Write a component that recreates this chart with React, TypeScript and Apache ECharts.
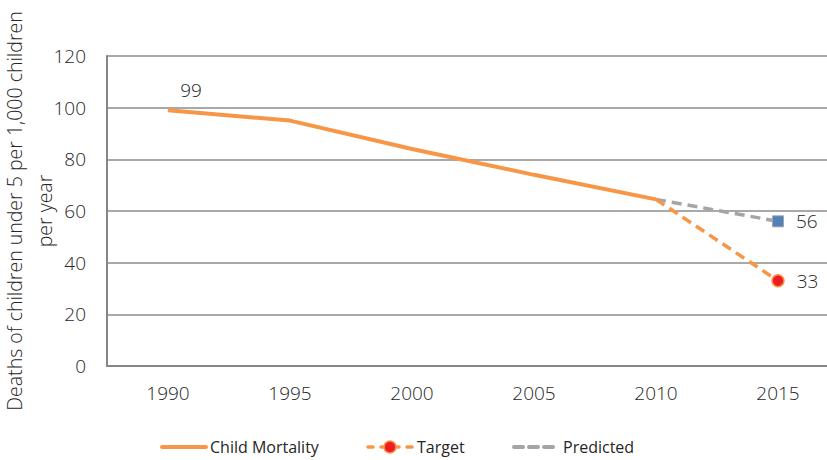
import React, { useEffect, useRef } from "react";
import * as echarts from "echarts";

const years = ["1990", "1995", "2000", "2005", "2010", "2015"];
const childMortality = [99, 95, 84, 74, 64.5, null];
const target = [null, null, null, null, 64.5, 33];
const predicted = [null, null, null, null, 64.5, 56];
const yTicks = { min: 0, max: 120, interval: 20 };
const legendNames = ["Child Mortality", "Target", "Predicted"];

const ORANGE = "#F79646";
const GREY = "#A5A5A5";
const FONT = "'Open Sans', 'DejaVu Sans', sans-serif";
const TEXT = "#262626";
const FS = 19;

export default function App() {
  const ref = useRef<HTMLDivElement>(null);
  useEffect(() => {
    if (!ref.current) return;
    const chart = echarts.init(ref.current, undefined, { renderer: "svg" });
    const legendY = 447;
    const legendText = (x: number, s: string) => ({
      type: "text",
      x,
      y: legendY,
      style: {
        text: s,
        fontSize: 16,
        fontFamily: FONT,
        fill: TEXT,
        textVerticalAlign: "middle",
        verticalAlign: "middle",
      },
    });
    const valueLabel = (position: string, extra: object) => ({
      show: true,
      position,
      fontSize: FS,
      color: TEXT,
      fontFamily: FONT,
      fontWeight: 300,
      ...extra,
    });
    chart.setOption({
      animation: false,
      textStyle: { fontFamily: FONT },
      grid: {
        left: 107,
        right: -12,
        top: 56,
        bottom: 94,
        containLabel: false,
        outerBoundsMode: "none",
      },
      legend: { show: false, data: legendNames },
      graphic: [
        {
          type: "line",
          shape: { x1: 162, y1: legendY, x2: 206, y2: legendY },
          style: { stroke: ORANGE, lineWidth: 4, lineCap: "round" },
        },
        legendText(210, legendNames[0]),
        {
          type: "line",
          shape: { x1: 368, y1: legendY, x2: 413, y2: legendY },
          style: { stroke: ORANGE, lineWidth: 3.5, lineCap: "round", lineDash: [5, 8] },
        },
        {
          type: "circle",
          shape: { cx: 390, cy: legendY, r: 6 },
          style: { fill: "#EE1C24", stroke: ORANGE, lineWidth: 1.5 },
        },
        legendText(417, legendNames[1]),
        {
          type: "line",
          shape: { x1: 514, y1: legendY, x2: 553, y2: legendY },
          style: { stroke: GREY, lineWidth: 4, lineCap: "round", lineDash: [9, 6] },
        },
        legendText(563, legendNames[2]),
      ],
      xAxis: {
        type: "category",
        data: years,
        boundaryGap: true,
        axisLine: { lineStyle: { color: "#868686", width: 2 } },
        axisTick: { show: false },
        axisLabel: { fontSize: FS, color: TEXT, margin: 17, fontFamily: FONT, fontWeight: 300 },
        splitLine: { show: false },
      },
      yAxis: {
        type: "value",
        min: yTicks.min,
        max: yTicks.max,
        interval: yTicks.interval,
        name: "Deaths of children under 5 per 1,000 children\nper year",
        nameLocation: "middle",
        nameRotate: 90,
        nameGap: 48,
        nameMoveOverlap: false,
        nameTextStyle: { fontSize: 19.5, color: TEXT, fontFamily: FONT, lineHeight: 30, fontWeight: 300 },
        axisLine: { show: true, lineStyle: { color: "#868686", width: 2 } },
        axisTick: { show: false },
        axisLabel: { fontSize: FS, color: TEXT, margin: 21, fontFamily: FONT, fontWeight: 300 },
        splitLine: { lineStyle: { color: "#8c8c8c", width: 1.5 } },
      },
      series: [
        {
          name: legendNames[0],
          type: "line",
          data: childMortality.map((v, i) =>
            i === 0
              ? {
                  value: v,
                  symbol: "circle",
                  symbolSize: 1,
                  label: valueLabel("top", { offset: [23, -5], formatter: "{c}" }),
                }
              : { value: v, symbol: "none" }
          ),
          symbol: "circle",
          showSymbol: true,
          lineStyle: { color: ORANGE, width: 4 },
          itemStyle: { color: ORANGE },
          z: 3,
        },
        {
          name: legendNames[1],
          type: "line",
          data: target.map((v, i) =>
            i === 5
              ? {
                  value: v,
                  symbol: "circle",
                  symbolSize: 12,
                  label: valueLabel("right", { distance: 12 }),
                }
              : { value: v, symbol: "none" }
          ),
          symbol: "circle",
          symbolSize: 12,
          lineStyle: { color: ORANGE, width: 3.5, type: [10, 6] },
          itemStyle: { color: "#EE1C24", borderColor: ORANGE, borderWidth: 1.5 },
          z: 2,
        },
        {
          name: legendNames[2],
          type: "line",
          data: predicted.map((v, i) =>
            i === 5
              ? {
                  value: v,
                  symbol: "rect",
                  symbolSize: 11,
                  itemStyle: { color: "#4F81BD", borderColor: GREY, borderWidth: 1 },
                  label: valueLabel("right", { distance: 12 }),
                }
              : { value: v, symbol: "none" }
          ),
          symbol: "none",
          lineStyle: { color: GREY, width: 3.5, type: [10, 6] },
          itemStyle: { color: GREY },
          z: 1,
        },
      ],
    });
    return () => chart.dispose();
  }, []);
  return (
    <div
      ref={ref}
      style={{ position: "fixed", left: 0, top: 0, width: 827, height: 460, background: "#fff" }}
    />
  );
}
